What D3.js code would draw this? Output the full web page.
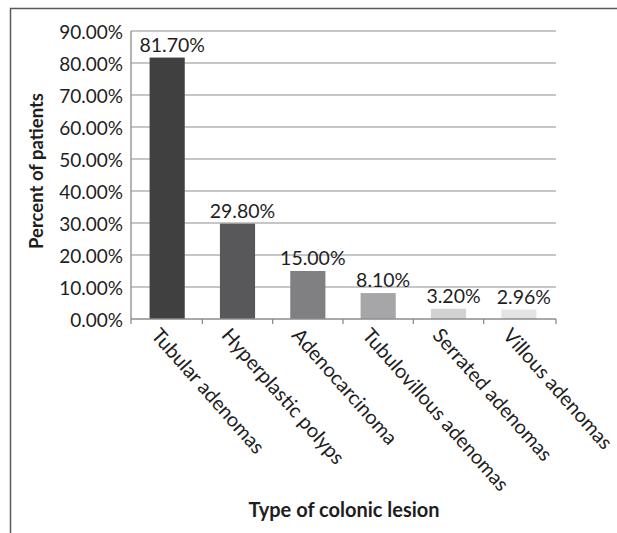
<!DOCTYPE html>
<html>
<head>
<meta charset="utf-8">
<script src="https://cdn.jsdelivr.net/npm/d3@7"></script>
<style>
  html, body { margin: 0; padding: 0; background: #fff; }
  svg { display: block; }
  text { font-family: Lato, "Open Sans", sans-serif; fill: #1e1e1e; }
</style>
</head>
<body>
<svg id="chart" width="617" height="533"></svg>
<script>
// Colonic lesion types and share of patients
const categories = [
  "Tubular adenomas",
  "Hyperplastic polyps",
  "Adenocarcinoma",
  "Tubulovillous adenomas",
  "Serrated adenomas",
  "Villous adenomas"
];
const values = [0.817, 0.298, 0.15, 0.081, 0.032, 0.0296];
const valueLabels = ["81.70%", "29.80%", "15.00%", "8.10%", "3.20%", "2.96%"];
const barColors = ["#404040", "#58585a", "#808082", "#a6a6a8", "#d2d2d2", "#e4e4e4"];
const yTicks = [0, 0.1, 0.2, 0.3, 0.4, 0.5, 0.6, 0.7, 0.8, 0.9];
const yTitle = "Percent of patients";
const xTitle = "Type of colonic lesion";

const svg = d3.select("#chart");

// outer frame (runs off the right and bottom edges)
svg.append("rect")
  .attr("x", 10.5).attr("y", 8.5)
  .attr("width", 700).attr("height", 600)
  .attr("fill", "none")
  .attr("stroke", "#5a5a5a")
  .attr("stroke-width", 1.5);

const plot = { left: 131, right: 556, top: 31, bottom: 319 };

const x = d3.scaleBand()
  .domain(categories)
  .range([132, 554])
  .paddingInner(0.5)
  .paddingOuter(0.25);

const xb = d3.scaleBand().domain(categories).range([132, 554]);

const y = d3.scaleLinear().domain([0, 0.9]).range([plot.bottom, plot.top]);

// horizontal gridlines
svg.append("g")
  .selectAll("line")
  .data(yTicks.slice(1))
  .join("line")
  .attr("x1", plot.left).attr("x2", plot.right)
  .attr("y1", d => y(d)).attr("y2", d => y(d))
  .attr("stroke", "#b4b4b4")
  .attr("stroke-width", 1.4);

// y axis
const yAxis = d3.axisLeft(y)
  .tickValues(yTicks)
  .tickFormat(d3.format(".2%"))
  .tickSize(0)
  .tickPadding(8);

const gy = svg.append("g")
  .attr("transform", `translate(${plot.left},0)`)
  .call(yAxis);
gy.select(".domain").attr("stroke", "#8c8c8c").attr("stroke-width", 1.3)
  .attr("d", `M0,${plot.top}V${plot.bottom}`);
gy.selectAll("text")
  .attr("font-size", 19)
  .attr("dy", "0.42em")
  .style("font-family", "Lato, 'Open Sans', sans-serif")
  .attr("fill", "#1e1e1e");

// bars
svg.append("g")
  .selectAll("rect")
  .data(categories)
  .join("rect")
  .attr("x", d => x(d))
  .attr("width", x.bandwidth())
  .attr("y", (d, i) => y(values[i]))
  .attr("height", (d, i) => y(0) - y(values[i]))
  .attr("fill", (d, i) => barColors[i]);

// value labels
svg.append("g")
  .selectAll("text")
  .data(categories)
  .join("text")
  .attr("x", d => xb(d) + xb.bandwidth() / 2 + 5)
  .attr("y", (d, i) => y(values[i]) - 6)
  .attr("text-anchor", "middle")
  .attr("font-size", 19.5)
  .text((d, i) => valueLabels[i]);

// x axis
const xAxis = d3.axisBottom(xb).tickSize(5).tickFormat("");
const gx = svg.append("g")
  .attr("transform", `translate(0,${plot.bottom})`)
  .call(xAxis);
gx.selectAll(".tick").remove();
gx.select(".domain").attr("stroke", "#8c8c8c").attr("stroke-width", 1.3)
  .attr("d", `M${plot.left},0H${plot.right}`);
// tick marks at band edges
const edges = categories.map(c => xb(c)).concat([xb.range()[1]]);
edges[0] = plot.left;
edges[edges.length - 1] = plot.right;
gx.selectAll("line.edge")
  .data(edges)
  .join("line")
  .attr("class", "edge")
  .attr("x1", d => d).attr("x2", d => d)
  .attr("y1", 0).attr("y2", 5)
  .attr("stroke", "#8c8c8c")
  .attr("stroke-width", 1.3);

// rotated category labels
svg.append("g")
  .selectAll("text")
  .data(categories)
  .join("text")
  .attr("transform", d => `translate(${xb(d) + xb.bandwidth() / 2 - 17},336) rotate(48.5)`)
  .attr("font-size", 20)
  .text(d => d);

// axis titles
svg.append("text")
  .attr("transform", "translate(43,171) rotate(-90)")
  .attr("text-anchor", "middle")
  .attr("font-size", 18.5)
  .attr("font-weight", "bold")
  .text(yTitle);

svg.append("text")
  .attr("x", 344).attr("y", 517)
  .attr("text-anchor", "middle")
  .attr("font-size", 20)
  .attr("font-weight", "bold")
  .text(xTitle);
</script>
</body>
</html>
